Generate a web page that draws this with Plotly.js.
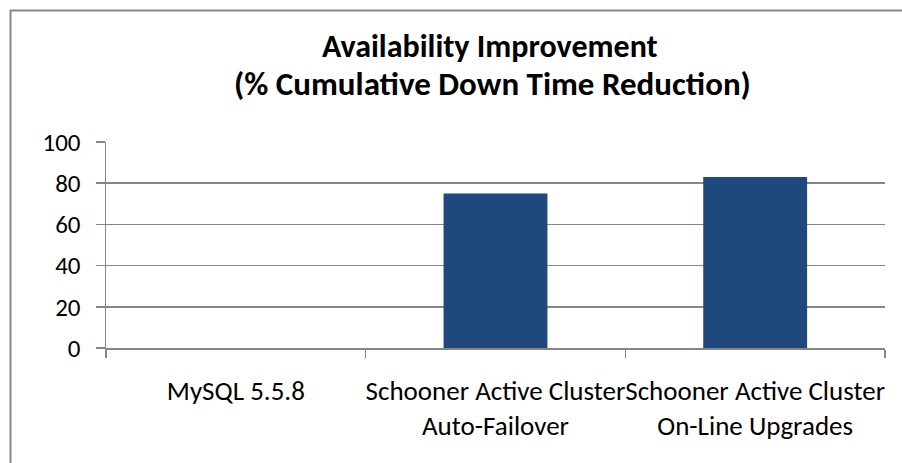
<!DOCTYPE html>
<html>
<head>
<meta charset="utf-8">
<script src="https://cdn.plot.ly/plotly-3.0.1.min.js"></script>
<style>
  html, body { margin: 0; padding: 0; background: #fff; }
  #chart { width: 902px; height: 463px; }
</style>
</head>
<body>
<div id="chart"></div>
<script>
const categories = [
  "MySQL 5.5.8",
  "Schooner Active Cluster<br>Auto-Failover",
  "Schooner Active Cluster<br>On-Line Upgrades"
];
const values = [0, 75, 83];
const yTicks = [0, 20, 40, 60, 80, 100];
const titleLine1 = "Availability Improvement";
const titleLine2 = "(% Cumulative Down Time Reduction)";

const W = 902, H = 463;
const M = { l: 106, r: 17, t: 142, b: 115 };
const pw = W - M.l - M.r, ph = H - M.t - M.b;
function px2x(p) { return (p - M.l) / pw; }
function py2y(p) { return 1 - (p - M.t) / ph; }

const FONT = "Carlito, Lato, 'Liberation Sans', sans-serif";
const GRID = "#868686";

const trace = {
  type: "bar",
  x: categories,
  y: values,
  width: 0.4,
  marker: { color: "#1F497D", line: { width: 0 } },
  hoverinfo: "x+y"
};

const layout = {
  width: W, height: H,
  margin: M,
  paper_bgcolor: "#fff",
  plot_bgcolor: "#fff",
  showlegend: false,
  font: { family: FONT, color: "#000", size: 25 },
  title: {
    text: "<b>" + titleLine1 + "</b>",
    font: { family: FONT, size: 32, color: "#000" },
    xref: "container", yref: "container",
    x: 0.543, xanchor: "center",
    y: 1 - 46 / H, yanchor: "middle"
  },
  annotations: [{
    text: "<b>" + titleLine2 + "</b>",
    font: { family: FONT, size: 33, color: "#000" },
    xref: "paper", yref: "paper",
    x: px2x(492), xanchor: "center",
    y: py2y(84), yanchor: "middle",
    showarrow: false
  }],
  xaxis: {
    type: "category",
    range: [-0.5, 2.5],
    showgrid: false,
    showline: true,
    linecolor: GRID,
    linewidth: 1.5,
    ticks: "outside",
    tickson: "boundaries",
    ticklen: 8,
    tickcolor: GRID,
    tickwidth: 1.5,
    tickangle: 0,
    ticklabelstandoff: 18,
    tickfont: { family: FONT, size: 27, color: "#000" },
    zeroline: false,
    fixedrange: true
  },
  yaxis: {
    range: [0, 100],
    tickvals: yTicks,
    ticktext: yTicks.map(String),
    showgrid: true,
    gridcolor: GRID,
    gridwidth: 1.5,
    showline: true,
    linecolor: GRID,
    linewidth: 1.5,
    ticks: "outside",
    ticklen: 9,
    tickcolor: GRID,
    tickwidth: 1.5,
    ticklabelstandoff: 10,
    tickfont: { family: FONT, size: 25, color: "#000" },
    zeroline: false,
    fixedrange: true
  },
  shapes: [{
    type: "path",
    xref: "paper", yref: "paper",
    path: "M " + px2x(W + 5) + " " + py2y(10.5) +
          " L " + px2x(10.5) + " " + py2y(10.5) +
          " L " + px2x(10.5) + " " + py2y(H + 5),
    line: { color: "#888888", width: 2 },
    layer: "above"
  }]
};

Plotly.newPlot("chart", [trace], layout, { displayModeBar: false, staticPlot: true });
</script>
</body>
</html>
